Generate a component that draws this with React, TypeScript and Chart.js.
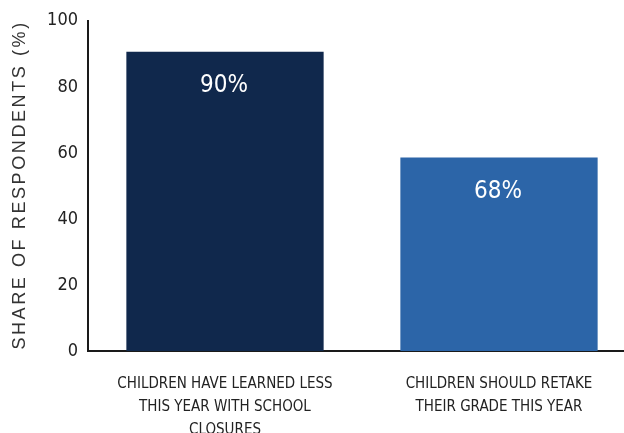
import React, { useEffect, useRef } from "react";
import { Chart, registerables } from "chart.js";

Chart.register(...registerables);

const categories: string[][] = [
  ["CHILDREN HAVE LEARNED LESS", "THIS YEAR WITH SCHOOL", "CLOSURES"],
  ["CHILDREN SHOULD RETAKE", "THEIR GRADE THIS YEAR"],
];
const values: number[] = [90.6, 58.6];
const valueLabels: string[] = ["90%", "68%"];
const barColors: string[] = ["#10284c", "#2c65a8"];
const yTitle = "SHARE OF RESPONDENTS (%)";

const NARROW = '"Liberation Sans Narrow", "DejaVu Sans Condensed", sans-serif';

export default function App() {
  const ref = useRef<HTMLCanvasElement | null>(null);

  useEffect(() => {
    if (!ref.current) return;
    const labelPlugin = {
      id: "valueLabels",
      afterDatasetsDraw(chart: any) {
        const ctx = chart.ctx;
        const meta = chart.getDatasetMeta(0);
        ctx.save();
        ctx.fillStyle = "#ffffff";
        ctx.font = `24px ${NARROW}`;
        ctx.textAlign = "center";
        ctx.textBaseline = "middle";
        meta.data.forEach((bar: any, i: number) => {
          ctx.fillText(valueLabels[i], bar.x - 1, bar.y + 34);
        });
        ctx.restore();
      },
      afterDraw(chart: any) {
        const ctx = chart.ctx;
        const area = chart.chartArea;
        ctx.save();
        ctx.translate(20, (area.top + area.bottom) / 2);
        ctx.rotate(-Math.PI / 2);
        ctx.fillStyle = "#333333";
        ctx.font = '18px "Liberation Sans", sans-serif';
        (ctx as any).letterSpacing = "2.6px";
        ctx.textAlign = "center";
        ctx.textBaseline = "middle";
        ctx.fillText(yTitle, 1, 0);
        ctx.restore();
      },
    };

    const chart = new Chart(ref.current, {
      type: "bar",
      data: {
        labels: categories,
        datasets: [
          {
            data: values,
            backgroundColor: barColors,
            borderWidth: 0,
            barPercentage: 0.8,
            categoryPercentage: 0.9,
          },
        ],
      },
      options: {
        responsive: false,
        animation: false,
        devicePixelRatio: 1,
        layout: { padding: { top: 20, right: 4, left: 0, bottom: 0 } },
        plugins: {
          legend: { display: false },
          tooltip: { enabled: false },
          title: { display: false },
        },
        scales: {
          x: {
            grid: { display: false, drawTicks: false },
            border: { display: true, color: "#1a1a1a", width: 2 },
            ticks: {
              color: "#222222",
              font: { family: NARROW, size: 15, lineHeight: 1.53 },
              padding: 22,
              maxRotation: 0,
              autoSkip: false,
            },
            afterFit(scale: any) {
              scale.height = 82;
            },
          },
          y: {
            min: 0,
            max: 100,
            grid: { display: false, drawTicks: false },
            border: { display: true, color: "#1a1a1a", width: 2 },
            ticks: {
              stepSize: 20,
              color: "#222222",
              font: { family: NARROW, size: 18 },
              padding: 10,
            },
            afterFit(scale: any) {
              scale.width = 88;
            },
          },
        },
      },
      plugins: [labelPlugin],
    });
    return () => chart.destroy();
  }, []);

  return (
    <div
      style={{
        position: "fixed",
        left: 0,
        top: 0,
        width: 624,
        height: 433,
        overflow: "hidden",
        background: "#ffffff",
      }}
    >
      <canvas ref={ref} width={640} height={433} style={{ display: "block" }} />
    </div>
  );
}
